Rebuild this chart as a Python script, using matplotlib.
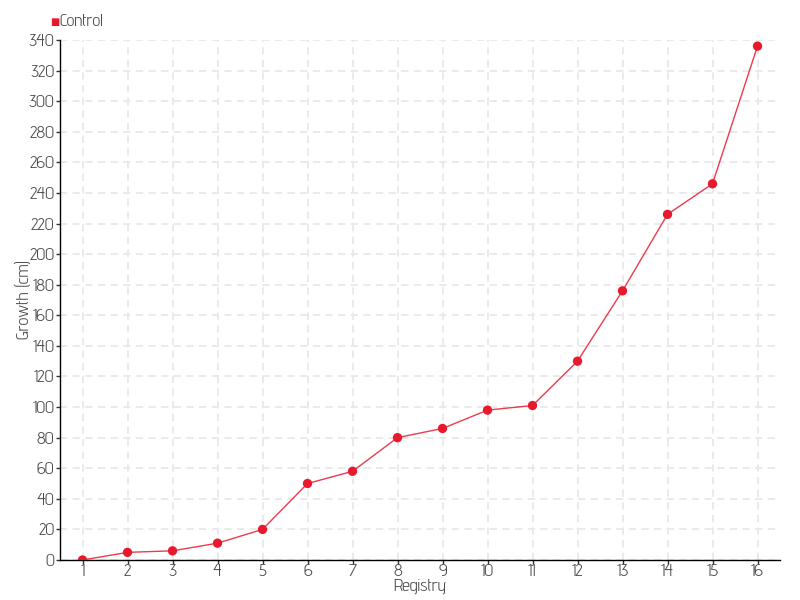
import matplotlib.pyplot as plt
from matplotlib import font_manager

registry = [str(i) for i in range(1, 17)]
growth = [0, 5, 6, 11, 20, 50, 58, 80, 86, 98, 101, 130, 176, 226, 246, 336]

names = {f.name for f in font_manager.fontManager.ttflist}
fam = ["Advent Pro"] if "Advent Pro" in names else []
plt.rcParams["font.family"] = fam + ["DejaVu Sans"]

red = "#e8192c"
grey = "#4d4d4d"

fig = plt.figure(figsize=(8, 6), dpi=100)
ax = fig.add_axes([60 / 800, 40 / 600, 720 / 800, 520 / 600])

x = range(len(registry))
ax.plot(x, growth, color=red, lw=1, alpha=0.85, zorder=3)
ax.scatter(x, growth, s=45, color=red, zorder=4, edgecolors="none")

ax.set_xlim(-0.5, len(registry) - 0.5)
ax.set_ylim(0, 340)
ax.set_xticks(list(x))
ax.set_xticklabels(registry)
ax.set_yticks(range(0, 341, 20))

ax.grid(True, color="#e8e8e8", ls=(0, (4, 3)), lw=1.3)
ax.set_axisbelow(True)
for s in ["top", "right"]:
    ax.spines[s].set_visible(False)
for s in ["left", "bottom"]:
    ax.spines[s].set_color("black")
    ax.spines[s].set_linewidth(1)
ax.tick_params(colors="#333333", labelcolor=grey, labelsize=13, length=3, width=1)
ax.tick_params(axis="x", pad=0)
ax.tick_params(axis="y", pad=1)

ax.set_xlabel("Registry", color=grey, fontsize=13, labelpad=-1)
ax.set_ylabel("Growth (cm)", color=grey, fontsize=13, labelpad=-3)

fig.text(50 / 800, 1 - 22 / 600, "\u25a0", color=red, fontsize=7, va="center", ha="left",
         family="DejaVu Sans")
fig.text(59 / 800, 1 - 22 / 600, "Control", color=grey, fontsize=13, va="center", ha="left")

fig.savefig("out.png", dpi=100)
